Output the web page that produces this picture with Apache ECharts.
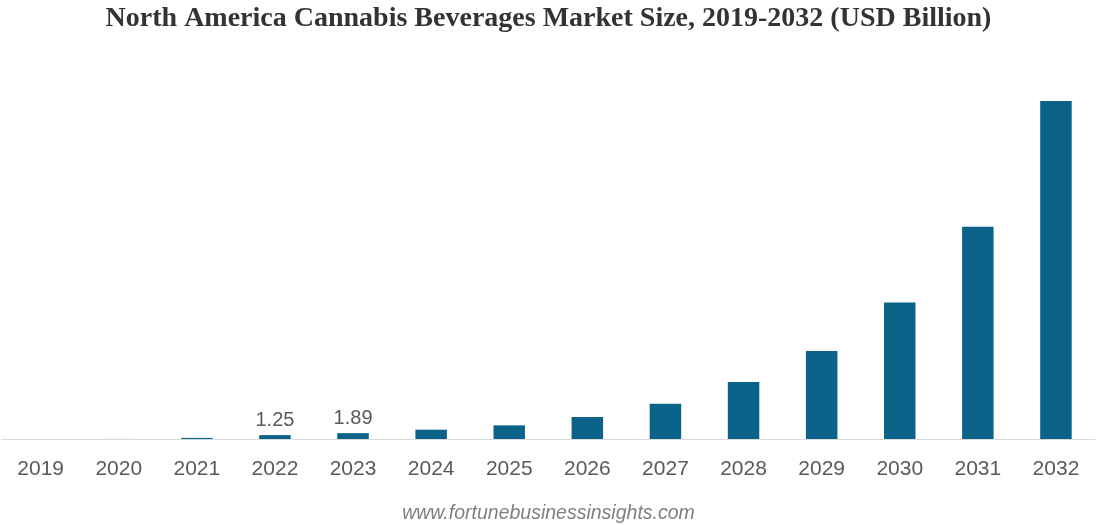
<!DOCTYPE html>
<html>
<head>
<meta charset="utf-8">
<script src="https://cdn.jsdelivr.net/npm/echarts@6/dist/echarts.min.js"></script>
<style>html,body{margin:0;padding:0;background:#fff}#c{width:1097px;height:525px}</style>
</head>
<body>
<div id="c"></div>
<script>
const years = ['2019','2020','2021','2022','2023','2024','2025','2026','2027','2028','2029','2030','2031','2032'];
const values = [0.01, 0.02, 0.35, 1.25, 1.89, 3.0, 4.4, 7.1, 11.4, 18.4, 28.4, 44.0, 68.5, 109.0];
const labeledYears = ['2022','2023'];

const chart = echarts.init(document.getElementById('c'), null, {renderer: 'canvas'});
chart.setOption({
  backgroundColor: '#ffffff',
  animation: false,
  title: {
    text: 'North America Cannabis Beverages Market Size, 2019-2032 (USD Billion)',
    left: 'center', top: 0,
    textStyle: {fontFamily: 'Liberation Serif', fontWeight: 'bold', fontSize: 28, color: '#333333'}
  },
  graphic: [{
    type: 'text', left: 'center', top: 504,
    style: {text: 'www.fortunebusinessinsights.com', font: 'italic 19.5px "Liberation Sans"', fill: '#7f7f7f'}
  }],
  grid: {left: 1.6, right: 2, top: 60.8, bottom: 86, containLabel: false},
  xAxis: {
    type: 'category', data: years,
    axisLine: {lineStyle: {color: '#d9d9d9', width: 1}},
    axisTick: {show: false},
    axisLabel: {color: '#595959', fontSize: 21, fontFamily: 'Liberation Sans', margin: 20}
  },
  yAxis: {type: 'value', min: 0, max: 122, show: false, splitLine: {show: false}},
  series: [{
    type: 'bar', data: values, barWidth: 31.5,
    itemStyle: {color: '#0b6389'},
    label: {
      show: true, position: 'top', distance: 5,
      color: '#595959', fontSize: 20, fontFamily: 'Liberation Sans',
      formatter: p => labeledYears.includes(p.name) ? p.value.toFixed(2) : ''
    }
  }]
});
</script>
</body>
</html>
